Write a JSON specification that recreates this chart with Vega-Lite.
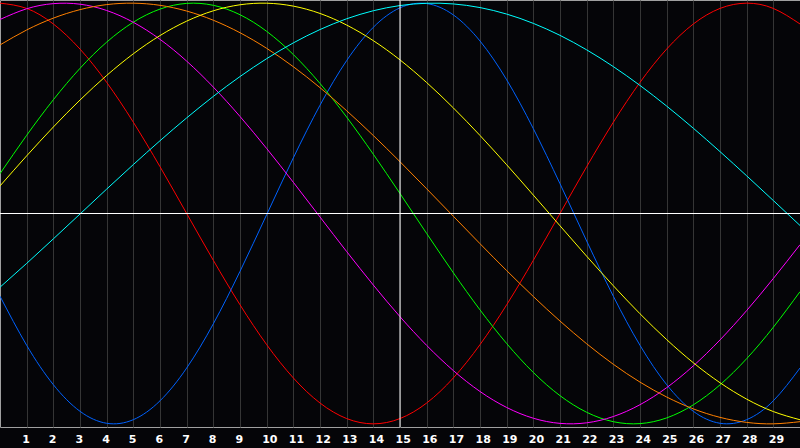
{
  "$schema": "https://vega.github.io/schema/vega-lite/v6.json",
  "width": 800,
  "height": 427,
  "autosize": "none",
  "padding": {"left": 0, "top": 0, "right": 0, "bottom": 21},
  "background": "#050508",
  "config": {
    "view": {"stroke": "#a0a0a0", "strokeWidth": 1},
    "axisX": {
      "domain": false, "ticks": false, "title": null,
      "grid": true, "gridColor": "#353535", "gridWidth": 1,
      "labelColor": "#ffffff", "labelFont": "DejaVu Sans", "labelFontWeight": "bold",
      "labelFontSize": 11, "labelAlign": "left", "labelOffset": -5, "labelPadding": 6,
      "labelBaseline": "top", "labelOverlap": false, "labelFlush": false, "labelBound": false
    }
  },
  "data": {
    "values": [
      {"s":"red","d":0,"v":1},{"s":"red","d":1,"v":0.9749},{"s":"red","d":2,"v":0.901},{"s":"red","d":3,"v":0.7818},{"s":"red","d":4,"v":0.6235},{"s":"red","d":5,"v":0.4339},{"s":"red","d":6,"v":0.2225},{"s":"red","d":7,"v":0},{"s":"red","d":8,"v":-0.2225},{"s":"red","d":9,"v":-0.4339},{"s":"red","d":10,"v":-0.6235},{"s":"red","d":11,"v":-0.7818},{"s":"red","d":12,"v":-0.901},{"s":"red","d":13,"v":-0.9749},{"s":"red","d":14,"v":-1},{"s":"red","d":15,"v":-0.9749},{"s":"red","d":16,"v":-0.901},{"s":"red","d":17,"v":-0.7818},{"s":"red","d":18,"v":-0.6235},{"s":"red","d":19,"v":-0.4339},{"s":"red","d":20,"v":-0.2225},{"s":"red","d":21,"v":0},{"s":"red","d":22,"v":0.2225},{"s":"red","d":23,"v":0.4339},{"s":"red","d":24,"v":0.6235},{"s":"red","d":25,"v":0.7818},{"s":"red","d":26,"v":0.901},{"s":"red","d":27,"v":0.9749},{"s":"red","d":28,"v":1},{"s":"red","d":29,"v":0.9749},{"s":"red","d":30,"v":0.901},
      {"s":"blue","d":0,"v":-0.3933},{"s":"blue","d":1,"v":-0.6267},{"s":"blue","d":2,"v":-0.8137},{"s":"blue","d":3,"v":-0.9404},{"s":"blue","d":4,"v":-0.9973},{"s":"blue","d":5,"v":-0.9802},{"s":"blue","d":6,"v":-0.8905},{"s":"blue","d":7,"v":-0.7346},{"s":"blue","d":8,"v":-0.5244},{"s":"blue","d":9,"v":-0.2751},{"s":"blue","d":10,"v":-0.0056},{"s":"blue","d":11,"v":0.2644},{"s":"blue","d":12,"v":0.5148},{"s":"blue","d":13,"v":0.7271},{"s":"blue","d":14,"v":0.8853},{"s":"blue","d":15,"v":0.9779},{"s":"blue","d":16,"v":0.998},{"s":"blue","d":17,"v":0.9441},{"s":"blue","d":18,"v":0.8201},{"s":"blue","d":19,"v":0.6357},{"s":"blue","d":20,"v":0.4034},{"s":"blue","d":21,"v":0.1416},{"s":"blue","d":22,"v":-0.1307},{"s":"blue","d":23,"v":-0.3933},{"s":"blue","d":24,"v":-0.6267},{"s":"blue","d":25,"v":-0.8137},{"s":"blue","d":26,"v":-0.9404},{"s":"blue","d":27,"v":-0.9973},{"s":"blue","d":28,"v":-0.9802},{"s":"blue","d":29,"v":-0.8905},{"s":"blue","d":30,"v":-0.7346},
      {"s":"green","d":0,"v":0.1893},{"s":"green","d":1,"v":0.3717},{"s":"green","d":2,"v":0.5407},{"s":"green","d":3,"v":0.6901},{"s":"green","d":4,"v":0.8146},{"s":"green","d":5,"v":0.9096},{"s":"green","d":6,"v":0.9718},{"s":"green","d":7,"v":0.9989},{"s":"green","d":8,"v":0.9898},{"s":"green","d":9,"v":0.945},{"s":"green","d":10,"v":0.866},{"s":"green","d":11,"v":0.7557},{"s":"green","d":12,"v":0.6182},{"s":"green","d":13,"v":0.4582},{"s":"green","d":14,"v":0.2817},{"s":"green","d":15,"v":0.095},{"s":"green","d":16,"v":-0.095},{"s":"green","d":17,"v":-0.2817},{"s":"green","d":18,"v":-0.4582},{"s":"green","d":19,"v":-0.6182},{"s":"green","d":20,"v":-0.7557},{"s":"green","d":21,"v":-0.866},{"s":"green","d":22,"v":-0.945},{"s":"green","d":23,"v":-0.9898},{"s":"green","d":24,"v":-0.9989},{"s":"green","d":25,"v":-0.9718},{"s":"green","d":26,"v":-0.9096},{"s":"green","d":27,"v":-0.8146},{"s":"green","d":28,"v":-0.6901},{"s":"green","d":29,"v":-0.5407},{"s":"green","d":30,"v":-0.3717},
      {"s":"magenta","d":0,"v":0.9223},{"s":"magenta","d":1,"v":0.9733},{"s":"magenta","d":2,"v":0.9978},{"s":"magenta","d":3,"v":0.9951},{"s":"magenta","d":4,"v":0.9652},{"s":"magenta","d":5,"v":0.909},{"s":"magenta","d":6,"v":0.828},{"s":"magenta","d":7,"v":0.7244},{"s":"magenta","d":8,"v":0.601},{"s":"magenta","d":9,"v":0.4613},{"s":"magenta","d":10,"v":0.309},{"s":"magenta","d":11,"v":0.1483},{"s":"magenta","d":12,"v":-0.0166},{"s":"magenta","d":13,"v":-0.1809},{"s":"magenta","d":14,"v":-0.3402},{"s":"magenta","d":15,"v":-0.4905},{"s":"magenta","d":16,"v":-0.6271},{"s":"magenta","d":17,"v":-0.7467},{"s":"magenta","d":18,"v":-0.8462},{"s":"magenta","d":19,"v":-0.9222},{"s":"magenta","d":20,"v":-0.9733},{"s":"magenta","d":21,"v":-0.9978},{"s":"magenta","d":22,"v":-0.9951},{"s":"magenta","d":23,"v":-0.9652},{"s":"magenta","d":24,"v":-0.909},{"s":"magenta","d":25,"v":-0.828},{"s":"magenta","d":26,"v":-0.7244},{"s":"magenta","d":27,"v":-0.6011},{"s":"magenta","d":28,"v":-0.4613},{"s":"magenta","d":29,"v":-0.309},{"s":"magenta","d":30,"v":-0.1483},
      {"s":"orange","d":0,"v":0.8013},{"s":"orange","d":1,"v":0.8725},{"s":"orange","d":2,"v":0.9288},{"s":"orange","d":3,"v":0.9692},{"s":"orange","d":4,"v":0.9931},{"s":"orange","d":5,"v":0.9999},{"s":"orange","d":6,"v":0.9897},{"s":"orange","d":7,"v":0.9625},{"s":"orange","d":8,"v":0.9188},{"s":"orange","d":9,"v":0.8594},{"s":"orange","d":10,"v":0.7853},{"s":"orange","d":11,"v":0.6978},{"s":"orange","d":12,"v":0.5983},{"s":"orange","d":13,"v":0.4886},{"s":"orange","d":14,"v":0.3706},{"s":"orange","d":15,"v":0.2462},{"s":"orange","d":16,"v":0.1175},{"s":"orange","d":17,"v":-0.0131},{"s":"orange","d":18,"v":-0.1435},{"s":"orange","d":19,"v":-0.2714},{"s":"orange","d":20,"v":-0.3947},{"s":"orange","d":21,"v":-0.5113},{"s":"orange","d":22,"v":-0.6193},{"s":"orange","d":23,"v":-0.7169},{"s":"orange","d":24,"v":-0.8016},{"s":"orange","d":25,"v":-0.8725},{"s":"orange","d":26,"v":-0.9288},{"s":"orange","d":27,"v":-0.9692},{"s":"orange","d":28,"v":-0.9931},{"s":"orange","d":29,"v":-0.9999},{"s":"orange","d":30,"v":-0.9897},
      {"s":"yellow","d":0,"v":0.1311},{"s":"yellow","d":1,"v":0.2741},{"s":"yellow","d":2,"v":0.4112},{"s":"yellow","d":3,"v":0.5395},{"s":"yellow","d":4,"v":0.6563},{"s":"yellow","d":5,"v":0.7593},{"s":"yellow","d":6,"v":0.846},{"s":"yellow","d":7,"v":0.9145},{"s":"yellow","d":8,"v":0.9637},{"s":"yellow","d":9,"v":0.9923},{"s":"yellow","d":10,"v":0.9998},{"s":"yellow","d":11,"v":0.9859},{"s":"yellow","d":12,"v":0.9511},{"s":"yellow","d":13,"v":0.8959},{"s":"yellow","d":14,"v":0.8217},{"s":"yellow","d":15,"v":0.7302},{"s":"yellow","d":16,"v":0.6226},{"s":"yellow","d":17,"v":0.5021},{"s":"yellow","d":18,"v":0.3709},{"s":"yellow","d":19,"v":0.2317},{"s":"yellow","d":20,"v":0.0875},{"s":"yellow","d":21,"v":-0.0584},{"s":"yellow","d":22,"v":-0.2031},{"s":"yellow","d":23,"v":-0.3435},{"s":"yellow","d":24,"v":-0.4767},{"s":"yellow","d":25,"v":-0.5995},{"s":"yellow","d":26,"v":-0.7096},{"s":"yellow","d":27,"v":-0.8045},{"s":"yellow","d":28,"v":-0.8825},{"s":"yellow","d":29,"v":-0.9416},{"s":"yellow","d":30,"v":-0.9806},
      {"s":"cyan","d":0,"v":-0.3504},{"s":"cyan","d":1,"v":-0.2372},{"s":"cyan","d":2,"v":-0.1207},{"s":"cyan","d":3,"v":-0.0024},{"s":"cyan","d":4,"v":0.116},{"s":"cyan","d":5,"v":0.2326},{"s":"cyan","d":6,"v":0.346},{"s":"cyan","d":7,"v":0.4545},{"s":"cyan","d":8,"v":0.5568},{"s":"cyan","d":9,"v":0.6511},{"s":"cyan","d":10,"v":0.7361},{"s":"cyan","d":11,"v":0.8111},{"s":"cyan","d":12,"v":0.8746},{"s":"cyan","d":13,"v":0.9258},{"s":"cyan","d":14,"v":0.964},{"s":"cyan","d":15,"v":0.9887},{"s":"cyan","d":16,"v":0.9995},{"s":"cyan","d":17,"v":0.9963},{"s":"cyan","d":18,"v":0.979},{"s":"cyan","d":19,"v":0.9481},{"s":"cyan","d":20,"v":0.9038},{"s":"cyan","d":21,"v":0.8469},{"s":"cyan","d":22,"v":0.778},{"s":"cyan","d":23,"v":0.6983},{"s":"cyan","d":24,"v":0.6087},{"s":"cyan","d":25,"v":0.5106},{"s":"cyan","d":26,"v":0.4053},{"s":"cyan","d":27,"v":0.2943},{"s":"cyan","d":28,"v":0.1791},{"s":"cyan","d":29,"v":0.0616},{"s":"cyan","d":30,"v":-0.0569}
    ]
  },
  "layer": [
    {
      "mark": {"type": "line", "strokeWidth": 1, "interpolate": "natural", "clip": true},
      "encoding": {
        "x": {
          "field": "d", "type": "quantitative",
          "scale": {"domain": [0, 30], "nice": false, "zero": false},
          "axis": {
            "values": [1,2,3,4,5,6,7,8,9,10,11,12,13,14,15,16,17,18,19,20,21,22,23,24,25,26,27,28,29],
            "labelOverlap": false, "labelAlign": "left", "labelOffset": -5
          }
        },
        "y": {
          "field": "v", "type": "quantitative",
          "scale": {"domain": [-1.015, 1.015], "nice": false, "zero": false},
          "axis": null
        },
        "color": {
          "field": "s", "type": "nominal",
          "scale": {
            "domain": ["red", "blue", "green", "magenta", "orange", "yellow", "cyan"],
            "range": ["#ff0000", "#0062ff", "#00ff00", "#ff00ff", "#ff8000", "#ffff00", "#00ffff"]
          },
          "legend": null
        }
      }
    },
    {
      "data": {"values": [{"k": "today"}]},
      "mark": {"type": "rule", "color": "#ffffff", "strokeWidth": 1},
      "encoding": {"y": {"datum": 0}}
    },
    {
      "data": {"values": [{"k": "today"}]},
      "mark": {"type": "rule", "color": "#ffffff", "strokeWidth": 1},
      "encoding": {"x": {"datum": 15, "axis": {"values": [1,2,3,4,5,6,7,8,9,10,11,12,13,14,15,16,17,18,19,20,21,22,23,24,25,26,27,28,29], "labelOverlap": false, "labelAlign": "left", "labelOffset": -5}}}
    }
  ]
}
